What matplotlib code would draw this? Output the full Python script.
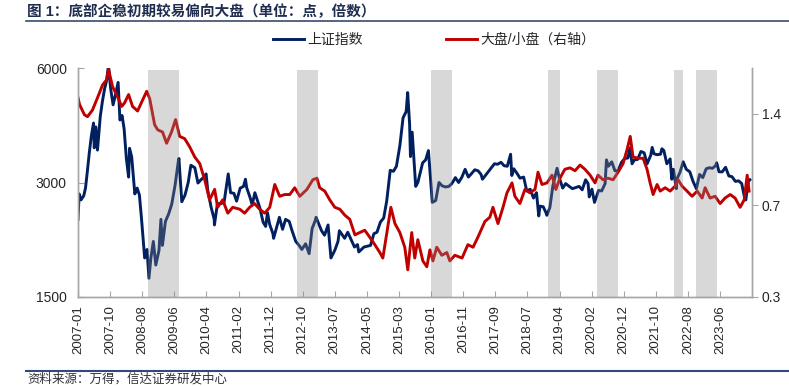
import matplotlib
matplotlib.use('Agg')
import matplotlib.pyplot as plt
from matplotlib.lines import Line2D
from matplotlib.ticker import FormatStrFormatter, NullLocator
import numpy as np
import pandas as pd

plt.rcParams['font.family'] = ['Liberation Sans', 'Noto Sans CJK SC']

# 上证指数 (左轴)
sse_dates = [
    '2007-01-04', '2007-01-15', '2007-02-01', '2007-02-27', '2007-03-15', '2007-04-01', '2007-04-20',
    '2007-05-10', '2007-05-29', '2007-06-05', '2007-06-20', '2007-07-05', '2007-07-31', '2007-08-20',
    '2007-09-10', '2007-09-28', '2007-10-16', '2007-11-05', '2007-11-28', '2007-12-20', '2008-01-14',
    '2008-01-31', '2008-02-20', '2008-03-10', '2008-03-31', '2008-04-21', '2008-04-30', '2008-05-20',
    '2008-06-18', '2008-07-10', '2008-07-31', '2008-08-20', '2008-09-18', '2008-10-10', '2008-10-28',
    '2008-11-15', '2008-12-08', '2008-12-31', '2009-01-30', '2009-02-17', '2009-03-03', '2009-03-31',
    '2009-04-30', '2009-05-29', '2009-06-30', '2009-07-29', '2009-08-04', '2009-08-31', '2009-09-30',
    '2009-10-30', '2009-11-24', '2009-12-31', '2010-01-29', '2010-02-26', '2010-03-31', '2010-04-15',
    '2010-04-30', '2010-05-31', '2010-06-30', '2010-07-02', '2010-07-30', '2010-08-31', '2010-09-30',
    '2010-11-08', '2010-11-30', '2010-12-31', '2011-01-25', '2011-02-28', '2011-03-31', '2011-04-18',
    '2011-04-29', '2011-05-31', '2011-06-20', '2011-07-15', '2011-08-31', '2011-09-30', '2011-10-24',
    '2011-11-10', '2011-11-30', '2011-12-31', '2012-01-06', '2012-02-29', '2012-03-30', '2012-04-27',
    '2012-05-31', '2012-06-29', '2012-07-31', '2012-08-31', '2012-09-26', '2012-10-31', '2012-12-03',
    '2012-12-31', '2013-01-31', '2013-02-06', '2013-03-29', '2013-04-26', '2013-05-29', '2013-06-25',
    '2013-07-31', '2013-08-30', '2013-09-12', '2013-10-31', '2013-11-29', '2013-12-31', '2014-01-31',
    '2014-02-28', '2014-03-12', '2014-04-30', '2014-05-30', '2014-06-30', '2014-07-31', '2014-08-29',
    '2014-09-30', '2014-10-31', '2014-11-28', '2014-12-31', '2015-01-30', '2015-02-27', '2015-03-31',
    '2015-04-30', '2015-05-29', '2015-06-12', '2015-06-30', '2015-07-08', '2015-07-24', '2015-08-26',
    '2015-09-15', '2015-10-30', '2015-11-27', '2015-12-23', '2016-01-28', '2016-02-29', '2016-03-31',
    '2016-04-29', '2016-05-31', '2016-06-30', '2016-07-29', '2016-08-31', '2016-09-30', '2016-10-31',
    '2016-11-30', '2016-12-30', '2017-01-26', '2017-02-28', '2017-03-31', '2017-04-28', '2017-05-11',
    '2017-06-30', '2017-07-31', '2017-08-31', '2017-09-29', '2017-10-31', '2017-11-30', '2017-12-29',
    '2018-01-29', '2018-02-09', '2018-02-28', '2018-03-30', '2018-04-27', '2018-05-31', '2018-06-29',
    '2018-07-31', '2018-08-31', '2018-09-28', '2018-10-19', '2018-10-31', '2018-11-30', '2018-12-28',
    '2019-01-03', '2019-01-31', '2019-02-28', '2019-04-08', '2019-04-30', '2019-05-31', '2019-06-28',
    '2019-07-31', '2019-08-30', '2019-09-30', '2019-10-31', '2019-11-29', '2019-12-31', '2020-01-23',
    '2020-02-03', '2020-02-28', '2020-03-23', '2020-04-30', '2020-05-29', '2020-06-30', '2020-07-13',
    '2020-07-31', '2020-08-31', '2020-09-30', '2020-10-30', '2020-11-30', '2020-12-31', '2021-01-29',
    '2021-02-18', '2021-03-09', '2021-03-31', '2021-04-30', '2021-05-31', '2021-06-30', '2021-07-28',
    '2021-08-31', '2021-09-13', '2021-09-30', '2021-10-29', '2021-11-30', '2021-12-13', '2021-12-31',
    '2022-01-28', '2022-02-28', '2022-03-15', '2022-03-31', '2022-04-26', '2022-04-29', '2022-05-31',
    '2022-06-30', '2022-07-29', '2022-08-31', '2022-09-30', '2022-10-31', '2022-11-30', '2022-12-30',
    '2023-01-31', '2023-02-28', '2023-03-31', '2023-04-28', '2023-05-09', '2023-05-31', '2023-06-30',
    '2023-07-31', '2023-08-31', '2023-09-28', '2023-10-31', '2023-11-30', '2023-12-29', '2024-01-22',
    '2024-02-05', '2024-02-29', '2024-03-15',
]
sse_values = [
    2400, 2800, 2700, 2770, 2900, 3200, 3600,
    4000, 4300, 3700, 4200, 3650, 4470, 4900,
    5300, 5550, 6100, 5300, 4800, 5100, 5500,
    4380, 4500, 4150, 3470, 3100, 3690, 3500,
    2800, 2900, 2780, 2400, 1900, 2000, 1680,
    1900, 2100, 1820, 1990, 2400, 2050, 2370,
    2480, 2630, 2960, 3400, 3470, 2670, 2780,
    3000, 3330, 3280, 2990, 3050, 3110, 3160,
    2870, 2590, 2400, 2320, 2640, 2640, 2660,
    3160, 2820, 2810, 2680, 2900, 2930, 3060,
    2910, 2740, 2620, 2820, 2570, 2360, 2300,
    2500, 2330, 2200, 2140, 2430, 2260, 2400,
    2370, 2230, 2100, 2050, 2000, 2070, 1950,
    2270, 2390, 2430, 2240, 2180, 2320, 1900,
    1990, 2100, 2240, 2140, 2220, 2120, 2030,
    2060, 1970, 2030, 2040, 2050, 2200, 2220,
    2360, 2420, 2680, 3230, 3210, 3310, 3750,
    4440, 4610, 5170, 4280, 3510, 4070, 2930,
    3000, 3380, 3440, 3640, 2660, 2690, 3000,
    2940, 2920, 2930, 2980, 3090, 3000, 3100,
    3250, 3100, 3160, 3240, 3220, 3150, 3060,
    3190, 3270, 3360, 3350, 3390, 3320, 3310,
    3560, 3130, 3260, 3170, 3080, 3100, 2850,
    2880, 2730, 2820, 2450, 2600, 2590, 2490,
    2460, 2580, 2940, 3270, 3080, 2900, 2980,
    2930, 2890, 2910, 2930, 2870, 3050, 2980,
    2750, 2880, 2660, 2860, 2850, 2980, 3440,
    3310, 3400, 3220, 3220, 3390, 3470, 3480,
    3700, 3360, 3440, 3450, 3620, 3590, 3360,
    3540, 3710, 3570, 3550, 3560, 3680, 3640,
    3360, 3460, 3060, 3250, 2890, 3050, 3190,
    3400, 3250, 3200, 3020, 2890, 3150, 3090,
    3260, 3280, 3270, 3320, 3380, 3200, 3200,
    3290, 3120, 3110, 3020, 3030, 2980, 2760,
    2700, 3020, 3050,
]

# 大盘/小盘 (右轴)
ratio_dates = [
    '2007-01-04', '2007-01-19', '2007-03-05', '2007-04-03', '2007-05-19', '2007-07-05', '2007-08-21',
    '2007-09-28', '2007-10-16', '2007-11-23', '2008-01-10', '2008-02-16', '2008-03-14', '2008-04-21',
    '2008-05-28', '2008-07-14', '2008-08-21', '2008-10-07', '2008-11-04', '2008-12-20', '2009-01-18',
    '2009-03-04', '2009-04-11', '2009-05-27', '2009-07-04', '2009-08-11', '2009-09-27', '2009-11-13',
    '2009-12-30', '2010-02-15', '2010-04-02', '2010-05-18', '2010-07-04', '2010-08-01', '2010-09-17',
    '2010-11-04', '2010-12-20', '2011-02-24', '2011-04-10', '2011-05-27', '2011-07-12', '2011-08-29',
    '2011-10-15', '2011-12-01', '2012-01-17', '2012-03-03', '2012-04-19', '2012-06-05', '2012-07-21',
    '2012-09-07', '2012-11-12', '2013-01-07', '2013-02-14', '2013-03-12', '2013-04-28', '2013-06-14',
    '2013-07-31', '2013-09-16', '2013-11-02', '2013-12-18', '2014-02-04', '2014-03-21', '2014-05-07',
    '2014-06-23', '2014-08-09', '2014-09-25', '2014-10-23', '2014-11-30', '2015-01-06', '2015-02-13',
    '2015-03-31', '2015-05-16', '2015-06-13', '2015-07-20', '2015-08-17', '2015-09-15', '2015-11-01',
    '2015-12-08', '2016-01-06', '2016-02-03', '2016-03-10', '2016-04-26', '2016-06-12', '2016-07-10',
    '2016-08-26', '2016-11-01', '2016-12-26', '2017-02-12', '2017-03-29', '2017-06-03', '2017-07-19',
    '2017-08-17', '2017-10-03', '2017-11-19', '2017-12-26', '2018-02-11', '2018-03-10', '2018-04-26',
    '2018-06-12', '2018-07-28', '2018-09-14', '2018-10-12', '2018-11-18', '2019-01-04', '2019-02-20',
    '2019-03-28', '2019-05-05', '2019-06-20', '2019-08-07', '2019-09-23', '2019-11-09', '2019-12-25',
    '2020-02-11', '2020-03-28', '2020-04-25', '2020-06-11', '2020-07-27', '2020-09-13', '2020-10-29',
    '2020-12-15', '2021-01-22', '2021-02-20', '2021-03-18', '2021-05-04', '2021-06-20', '2021-07-27',
    '2021-08-25', '2021-09-22', '2021-10-29', '2021-11-27', '2022-01-12', '2022-02-28', '2022-04-15',
    '2022-05-13', '2022-06-19', '2022-08-05', '2022-09-21', '2022-11-08', '2022-12-24', '2023-01-21',
    '2023-03-08', '2023-04-24', '2023-06-10', '2023-07-26', '2023-09-12', '2023-10-28', '2023-12-14',
    '2024-01-21', '2024-02-18', '2024-03-07',
]
ratio_values = [
    1.58, 1.50, 1.39, 1.37, 1.44, 1.58, 1.74,
    1.81, 1.96, 1.72, 1.59, 1.48, 1.52, 1.62,
    1.48, 1.43, 1.53, 1.66, 1.57, 1.29, 1.24,
    1.22, 1.12, 1.22, 1.34, 1.18, 1.16, 1.09,
    1.01, 0.96, 0.85, 0.73, 0.79, 0.69, 0.73,
    0.66, 0.69, 0.68, 0.66, 0.69, 0.71, 0.68,
    0.66, 0.69, 0.82, 0.75, 0.76, 0.76, 0.80,
    0.75, 0.79, 0.85, 0.86, 0.80, 0.78, 0.73,
    0.69, 0.68, 0.65, 0.63, 0.56, 0.57, 0.58,
    0.55, 0.52, 0.49, 0.47, 0.57, 0.69, 0.61,
    0.57, 0.51, 0.43, 0.57, 0.47, 0.54, 0.46,
    0.44, 0.50, 0.46, 0.51, 0.48, 0.49, 0.46,
    0.48, 0.47, 0.52, 0.51, 0.55, 0.62, 0.64,
    0.69, 0.61, 0.69, 0.77, 0.83, 0.75, 0.71,
    0.79, 0.77, 0.79, 0.90, 0.82, 0.83, 0.88,
    0.79, 0.86, 0.92, 0.93, 0.91, 0.95, 0.92,
    0.88, 0.83, 0.88, 0.85, 0.86, 0.85, 0.90,
    0.96, 1.07, 1.18, 1.01, 1.00, 1.00, 0.92,
    0.83, 0.76, 0.82, 0.78, 0.80, 0.78, 0.81,
    0.85, 0.81, 0.78, 0.75, 0.78, 0.74, 0.80,
    0.74, 0.75, 0.71, 0.74, 0.76, 0.74, 0.69,
    0.73, 0.88, 0.78,
]

# 灰色区间：底部企稳初期
shade_starts = ['2008-10-16', '2012-08-09', '2016-01-15', '2019-01-13', '2020-04-15', '2022-04-06', '2022-10-28']
shade_ends = ['2009-08-01', '2013-02-23', '2016-07-28', '2019-05-04', '2020-10-28', '2022-06-28', '2023-05-12']

xtick_labels = ['2007-01', '2007-10', '2008-08', '2009-06', '2010-04', '2011-02', '2011-12',
                '2012-10', '2013-07', '2014-05', '2015-03', '2016-01', '2016-11', '2017-09',
                '2018-07', '2019-04', '2020-02', '2020-12', '2021-10', '2022-08', '2023-06']

left_ticks = [1500, 3000, 6000]
right_ticks = [0.35, 0.7, 1.4]

navy = '#002060'
red = '#c00000'
grid_grey = '#a6a6a6'

fig = plt.figure(figsize=(7.89, 3.86), dpi=100)
fig.patch.set_facecolor('white')

ax = fig.add_axes([78 / 789, 1 - 297 / 386, (752 - 78) / 789, (297 - 68) / 386])
ax2 = ax.twinx()

l1, = ax.plot(pd.to_datetime(sse_dates), sse_values, color=navy, lw=2.1, zorder=2)
l2, = ax2.plot(pd.to_datetime(ratio_dates), ratio_values, color=red, lw=2.1, zorder=2)

for s, e in zip(shade_starts, shade_ends):
    ax2.axvspan(pd.Timestamp(s), pd.Timestamp(e), ymin=0, ymax=0.99,
                color='#8b8b8b', alpha=0.33, lw=0, zorder=3)

start = pd.Timestamp('2007-01-04')
ax.set_xlim(start, pd.Timestamp('2024-04-03'))
tick_pos = start + pd.to_timedelta(np.arange(len(xtick_labels)) * 300, unit='D')
ax.set_xticks(tick_pos)
ax.set_xticklabels(xtick_labels, rotation=90, fontsize=9.5, color='#262626')

ax.set_yscale('log', base=2)
ax.set_ylim(1500, 6000)
ax.set_yticks(left_ticks)
ax.yaxis.set_major_formatter(FormatStrFormatter('%d'))
ax.yaxis.set_minor_locator(NullLocator())

ax2.set_yscale('log', base=2)
ax2.set_ylim(0.35, 0.35 * 2 ** 2.5)
ax2.set_yticks(right_ticks)
ax2.yaxis.set_major_formatter(FormatStrFormatter('%.1f'))
ax2.yaxis.set_minor_locator(NullLocator())

ax.tick_params(axis='x', direction='in', length=4, color=grid_grey, pad=6)
ax.tick_params(axis='y', direction='in', length=4, color=grid_grey, pad=8,
               labelsize=10, labelcolor='#262626')
ax2.tick_params(axis='y', direction='out', length=4, color=grid_grey, pad=3,
                labelsize=10, labelcolor='#262626')

for a in (ax, ax2):
    a.spines['top'].set_visible(False)
    for side in ('left', 'right', 'bottom'):
        a.spines[side].set_color(grid_grey)
        a.spines[side].set_linewidth(1.0)

fig.legend([l1, l2], ['上证指数', '大盘/小盘（右轴）'], loc='center',
           bbox_to_anchor=(434 / 789, 1 - 40 / 386), ncol=2, frameon=False,
           fontsize=10, handlelength=2.2, handletextpad=0.25, columnspacing=6.0,
           labelcolor='#262626')

fig.text(27 / 789, 1 - 12 / 386, '图 1：底部企稳初期较易偏向大盘（单位：点，倍数）',
         fontsize=10.5, fontweight='bold', color='#1f2d4f', va='center', ha='left')
fig.add_artist(Line2D([26 / 789, 1], [1 - 21 / 386, 1 - 21 / 386],
                      transform=fig.transFigure, color='#3c4a6b', lw=1.2))

fig.add_artist(Line2D([26 / 789, 1], [1 - 371 / 386, 1 - 371 / 386],
                      transform=fig.transFigure, color='#2f4a80', lw=1.5))
fig.text(27 / 789, 1 - 379 / 386, '资料来源：万得，信达证券研发中心',
         fontsize=9, color='#333333', va='center', ha='left')

fig.savefig('out.png', dpi=100, facecolor='white')
